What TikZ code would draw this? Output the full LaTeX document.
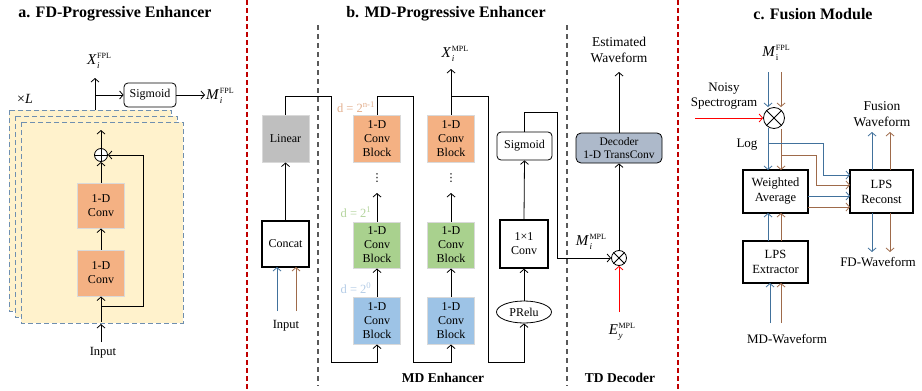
\documentclass[tikz,border=0pt]{standalone}
\usepackage{fontspec}
\setmainfont{Liberation Serif}
\newfontfamily\dejavu{DejaVu Sans}
\usetikzlibrary{arrows.meta,shapes.geometric}
\definecolor{yfill}{HTML}{FFF2CC}
\definecolor{sheetb}{HTML}{6F8FB0}
\definecolor{orfill}{HTML}{F4B183}
\definecolor{grfill}{HTML}{A9D18E}
\definecolor{blfill}{HTML}{9DC3E6}
\definecolor{gyfill}{HTML}{BFBFBF}
\definecolor{lgbord}{HTML}{D9D9D9}
\definecolor{decfill}{HTML}{ADB9CA}
\definecolor{lblue}{HTML}{41719C}
\definecolor{lbrown}{HTML}{9E6A4A}
\definecolor{sepred}{HTML}{C00000}
\definecolor{sepgray}{HTML}{595959}
\definecolor{dor}{HTML}{E2AE8C}
\definecolor{dgr}{HTML}{B3D39C}
\definecolor{dbl}{HTML}{B4CCE6}
\newcommand{\vlab}[3]{\textit{#1}\kern0.5pt\rlap{\raisebox{-3.5pt}{\fontsize{9}{9}\selectfont #2}}\raisebox{6pt}{\fontsize{8}{8}\selectfont #3}}
\begin{document}
\begin{tikzpicture}[x=1pt,y=-1pt,
  txt/.style={font=\fontsize{12.5}{14.5}\selectfont, align=center, inner sep=0},
  vtxt/.style={font=\fontsize{15}{16}\selectfont, inner sep=0},
  ttl/.style={font=\fontsize{16}{18}\selectfont\bfseries, inner sep=0},
  btm/.style={font=\fontsize{13.5}{16}\selectfont\bfseries, inner sep=0},
  arr/.style={-{Straight Barb[length=3.5pt,width=8pt]}, line width=0.8pt},
  ln/.style={line width=0.8pt},
  blk/.style={draw=lgbord, line width=1pt, minimum width=47pt, minimum height=46pt, inner sep=0, align=center, font=\fontsize{12}{14}\selectfont},
  wbox/.style={draw=black, line width=1.3pt, fill=white, minimum width=47pt, minimum height=46pt, inner sep=0, align=center, font=\fontsize{12}{14}\selectfont},
  rbox/.style={draw=black, line width=0.8pt, rounded corners=4pt, fill=white, inner sep=0, align=center, font=\fontsize{12}{14}\selectfont},
  cbox/.style={draw=black, line width=1.3pt, fill=white, minimum width=65pt, minimum height=43pt, inner sep=0, align=center, font=\fontsize{12.5}{15}\selectfont},
  sheet/.style={fill=yfill, draw=sheetb, dashed, dash pattern=on 5pt off 3pt, line width=1pt},
  opc/.style={circle, draw=black, line width=0.8pt, fill=white, inner sep=0},
  vdot/.style={inner sep=0, font=\dejavu\fontsize{11}{11}\selectfont}
]
\useasboundingbox (0,0) rectangle (922,391);

% separators
\draw[sepred, line width=1.2pt, dash pattern=on 5pt off 3pt] (247,0) -- (247,391);
\draw[sepred, line width=1.2pt, dash pattern=on 5pt off 3pt] (678,0) -- (678,391);
\draw[sepgray, line width=1.5pt, dash pattern=on 5pt off 4pt] (318,25) -- (318,386);
\draw[sepgray, line width=1.2pt, dash pattern=on 5pt off 4pt] (567,25) -- (567,386);

% ---------- panel a ----------
\node[ttl] (ta) at (115,14) {a. FD-Progressive Enhancer};
\draw[sheet] (9,110) rectangle (171,311);
\draw[sheet] (15,116) rectangle (177,317);
\draw[sheet] (21,122) rectangle (183,323);
\node[blk, fill=orfill] (c1) at (101,273) {1-D\\Conv};
\node[blk, fill=orfill, minimum height=45pt] (c2) at (101,205.5) {1-D\\Conv};
\node[opc, minimum size=13pt] (plus) at (101,155) {};
\draw[ln] (plus.north) -- (plus.south) (plus.west) -- (plus.east);
\node[txt] (ina) at (103,353) {Input};
\coordinate (ina0) at (101,342);
\coordinate (ina1) at (101,324);
\coordinate (ina2) at (101,322);
\coordinate (skip) at (101,306);
\coordinate (outa) at (101,130);
\draw[arr] (ina0) -- (ina1);
\draw[arr] (ina2) -- (c1.south);
\draw[arr] (skip) -- (143,306) -- (143,155) -- (plus.east);
\draw[arr] (c1.north) -- (c2.south);
\draw[arr] (c2.north) -- (plus.south);
\draw[arr] (plus.north) -- (outa);
\node[vtxt, font=\fontsize{14}{16}\selectfont] (xl) at (25,99) {×\textit{L}};
\coordinate (topa0) at (95,110);
\coordinate (topa1) at (95,78);
\coordinate (topa2) at (95,95);
\node[rbox, minimum width=52pt, minimum height=24pt] (siga) at (150,95) {Sigmoid};
\coordinate (mout) at (205,95);
\draw[arr] (topa0) -- (topa1);
\draw[arr] (topa2) -- (siga.west);
\draw[arr] (siga.east) -- (mout);
\node[vtxt] (xfpl) at (99,61) {\vlab{X}{\textit{i}}{FPL}};
\node[vtxt, anchor=west] (mfpl) at (206,96) {\vlab{M}{\textit{i}}{FPL}};

% ---------- panel b ----------
\node[ttl] (tb) at (446,14) {b. MD-Progressive Enhancer};
\node[blk, fill=gyfill, minimum height=47pt] (lin) at (285.5,138.5) {Linear};
\node[wbox] (cat) at (285.5,244) {Concat};
\coordinate (inb1) at (277,311);
\coordinate (inb2) at (296,311);
\coordinate (inb1e) at (277,267);
\coordinate (inb2e) at (296,267);
\draw[arr, lblue] (inb1) -- (inb1e);
\draw[arr, lbrown] (inb2) -- (inb2e);
\node[txt] (inb) at (286,326) {Input};
\draw[arr] (cat.north) -- (lin.south);

\node[blk, fill=orfill, minimum height=47pt] (o1) at (377,138.5) {1-D\\Conv\\Block};
\node[blk, fill=grfill] (g1) at (377,245) {1-D\\Conv\\Block};
\node[blk, fill=blfill, minimum height=47pt] (b1) at (377,320.5) {1-D\\Conv\\Block};
\node[blk, fill=orfill, minimum height=47pt] (o2) at (451,138.5) {1-D\\Conv\\Block};
\node[blk, fill=grfill] (g2) at (451,245) {1-D\\Conv\\Block};
\node[blk, fill=blfill, minimum height=47pt] (b2) at (451,320.5) {1-D\\Conv\\Block};
\node[vdot] (v1) at (377,178) {⋮};
\node[vdot] (v2) at (451,178) {⋮};
\coordinate (a1) at (377,193);
\coordinate (a2) at (451,193);
\draw[arr] (b1.north) -- (g1.south);
\draw[arr] (g1.north) -- (a1);
\draw[arr] (b2.north) -- (g2.south);
\draw[arr] (g2.north) -- (a2);
\node[txt, text=dor] (d1) at (356,107) {d = 2\textsuperscript{n-1}};
\node[txt, text=dgr] (d2) at (356,212) {d = 2\textsuperscript{1}};
\node[txt, text=dbl] (d3) at (356,288) {d = 2\textsuperscript{0}};

\draw[arr] (lin.north) -- (285.5,96) -| (331,362) -| (b1.south);
\draw[arr] (o1.north) -- (377,96) -| (413,362) -| (b2.south);
\coordinate (xo) at (451,69);
\draw[arr] (o2.north) -- (xo);
\node[vtxt] (xmpl) at (455,54) {\vlab{X}{\textit{i}}{MPL}};

\node[ellipse, draw=black, line width=0.8pt, minimum width=55pt, minimum height=22pt, inner sep=0, font=\fontsize{12}{14}\selectfont] (prelu) at (524,312) {PRelu};
\draw[arr] (451,96) -| (488,362) -| (prelu.south);
\node[wbox, minimum width=48pt, minimum height=48pt] (c11) at (524,244) {1×1\\Conv};
\draw[arr] (prelu.north) -- (c11.south);
\node[rbox, minimum width=55pt, minimum height=28pt] (sigb) at (524.5,146) {Sigmoid};
\draw[arr] (c11.north) -- (sigb.south);
\node[opc, minimum size=15pt] (mult) at (619,258) {};
\draw[ln] (mult.north east) -- (mult.south west) (mult.north west) -- (mult.south east);
\draw[arr] (sigb.north) -- (524.5,112) -| (557,258) -- (mult.west);
\node[vtxt] (mmpl) at (591,242) {\vlab{M}{\textit{i}}{MPL}};
\coordinate (e0) at (619,312);
\draw[arr, red] (e0) -- (mult.south);
\node[vtxt] (empl) at (622,332) {\vlab{E}{\textit{y}}{MPL}};
\node[rbox, fill=decfill, minimum width=86pt, minimum height=30pt, rounded corners=5pt, font=\fontsize{11.5}{13}\selectfont] (dec) at (619,148) {Decoder\\1-D TransConv};
\draw[arr] (mult.north) -- (dec.south);
\coordinate (est) at (619,72);
\draw[arr] (dec.north) -- (est);
\node[txt, font=\fontsize{13.5}{16.5}\selectfont] (estl) at (619,50) {Estimated\\Waveform};
\node[btm] (mde) at (443,378) {MD Enhancer};
\node[btm] (tdd) at (620,378) {TD Decoder};

% ---------- panel c ----------
\node[ttl] (tc) at (813,14) {c. Fusion Module};
\node[vtxt] (mfc) at (776,53) {\vlab{M}{i}{FPL}};
\node[opc, minimum size=21pt] (mc) at (774,118) {};
\draw[ln] (mc.north east) -- (mc.south west) (mc.north west) -- (mc.south east);
\draw[arr, lblue] (768,72) -- (768,107);
\draw[arr, lbrown] (781,72) -- (781,107);
\coordinate (ns) at (695,118);
\draw[arr, red] (ns) -- (mc.west);
\node[txt, font=\fontsize{13}{15.5}\selectfont] (nsl) at (724,96) {Noisy\\Spectrogram};
\node[txt, font=\fontsize{13}{15}\selectfont] (logl) at (747,145) {Log};
\node[cbox] (wa) at (775.5,191.5) {Weighted\\Average};
\node[cbox, minimum width=63pt] (lr) at (881.5,191.5) {LPS\\Reconst};
\node[cbox, minimum height=42pt] (le) at (775.5,262) {LPS\\Extractor};
\draw[arr, lblue] (768,128) -- (768,170);
\draw[arr, lbrown] (781,129) -- (781,170);
\draw[arr, lblue] (768,143) -| (823,175) -- (850,175);
\draw[arr, lbrown] (781,155) -| (816,185) -- (850,185);
\draw[arr, lblue] (808,196) -- (850,196);
\draw[arr, lbrown] (808,207) -- (850,207);
\draw[arr, lblue] (872,170) -- (872,132);
\draw[arr, lbrown] (890,170) -- (890,132);
\node[txt, font=\fontsize{13.5}{16.5}\selectfont] (fw) at (882,114) {Fusion\\Waveform};
\draw[arr, lblue] (872,213) -- (872,252);
\draw[arr, lbrown] (890,213) -- (890,252);
\node[txt, font=\fontsize{13}{15}\selectfont] (fdw) at (878,262) {FD-Waveform};
\draw[arr, lblue] (768,241) -- (768,213);
\draw[arr, lbrown] (781,241) -- (781,213);
\draw[arr, lblue] (770,323) -- (770,283);
\draw[arr, lbrown] (781,323) -- (781,283);
\node[txt, font=\fontsize{13}{15}\selectfont] (mdw) at (787,339) {MD-Waveform};
\end{tikzpicture}
\end{document}
